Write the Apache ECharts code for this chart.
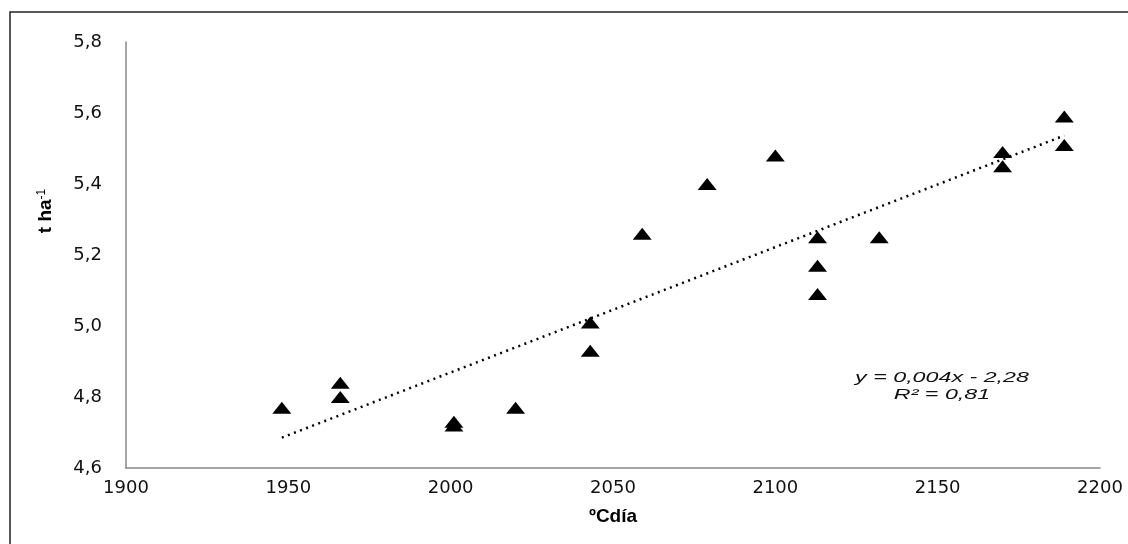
<!DOCTYPE html>
<html>
<head>
<meta charset="utf-8">
<script src="https://cdn.jsdelivr.net/npm/echarts@6/dist/echarts.min.js"></script>
<style>
  html, body { margin: 0; padding: 0; background: #fff; }
  #main { width: 1128px; height: 544px; }
</style>
</head>
<body>
<div id="main"></div>
<script>
// datos
var gradosDia = [1948, 1966, 1966, 2001, 2001, 2020, 2043, 2043, 2059, 2079, 2100, 2113, 2113, 2113, 2132, 2170, 2170, 2189, 2189];
var rendimiento = [4.77, 4.84, 4.80, 4.73, 4.72, 4.77, 5.01, 4.93, 5.26, 5.40, 5.48, 5.25, 5.17, 5.09, 5.25, 5.49, 5.45, 5.59, 5.51];
var ecuacion = ['y = 0,004x - 2,28', 'R² = 0,81'];

// recta de tendencia (minimos cuadrados)
function tendencia(xs, ys) {
  var n = xs.length, mx = 0, my = 0;
  for (var i = 0; i < n; i++) { mx += xs[i]; my += ys[i]; }
  mx /= n; my /= n;
  var sxy = 0, sxx = 0;
  for (var j = 0; j < n; j++) {
    sxy += (xs[j] - mx) * (ys[j] - my);
    sxx += (xs[j] - mx) * (xs[j] - mx);
  }
  var b = sxy / sxx, a = my - b * mx;
  var x0 = Math.min.apply(null, xs), x1 = Math.max.apply(null, xs);
  return [[x0, a + b * x0], [x1, a + b * x1]];
}

var puntos = gradosDia.map(function (x, i) { return [x, rendimiento[i]]; });
var chart = echarts.init(document.getElementById('main'));
var fuente = "'DejaVu Sans', 'Liberation Sans', Arial, sans-serif";
var fuenteTitulo = "'Liberation Sans', Arial, sans-serif";

var option = {
  backgroundColor: '#fff',
  animation: false,
  grid: { left: 126, right: 28, top: 42, bottom: 76 },
  xAxis: {
    type: 'value',
    min: 1900,
    max: 2200,
    interval: 50,
    axisLine: { lineStyle: { color: '#888', width: 1.5 } },
    axisTick: { show: false },
    splitLine: { show: false },
    axisLabel: {
      color: '#111', fontSize: 18, fontFamily: fuente, margin: 11,
      formatter: function (v) { return String(v); }
    },
    name: 'ºCdía',
    nameLocation: 'middle',
    nameGap: 39,
    nameTextStyle: { color: '#000', fontSize: 19, fontWeight: 'bold', fontFamily: fuenteTitulo }
  },
  yAxis: {
    type: 'value',
    min: 4.6,
    max: 5.8,
    interval: 0.2,
    axisLine: { show: true, lineStyle: { color: '#888', width: 1.5 } },
    axisTick: { show: false },
    splitLine: { show: false },
    axisLabel: {
      color: '#111', fontSize: 18, fontFamily: fuente, margin: 24,
      formatter: function (v) { return v.toFixed(1).replace('.', ','); }
    }
  },
  graphic: [
    {
      type: 'rect',
      shape: { x: 10, y: 12, width: 1200, height: 600 },
      style: { fill: 'none', stroke: '#222', lineWidth: 1.5 },
      silent: true
    },
    {
      type: 'text',
      x: 46, y: 211,
      rotation: Math.PI / 2,
      style: {
        text: '{b|t ha}{s|-1}',
        align: 'center',
        verticalAlign: 'middle',
        rich: {
          b: { fontSize: 19, fontWeight: 'bold', fontFamily: fuenteTitulo, fill: '#000' },
          s: { fontSize: 12, fontFamily: fuenteTitulo, fill: '#000', verticalAlign: 'top', padding: [0, 0, 8, 0] }
        }
      }
    },
    {
      type: 'text',
      x: 942, y: 386,
      scaleX: 1.55,
      style: {
        text: ecuacion.join('\n'),
        align: 'center',
        verticalAlign: 'middle',
        fontSize: 15,
        lineHeight: 17,
        fontStyle: 'italic',
        fontFamily: fuenteTitulo,
        fill: '#111'
      }
    }
  ],
  series: [
    {
      type: 'line',
      data: tendencia(gradosDia, rendimiento),
      showSymbol: false,
      symbol: 'none',
      lineStyle: { color: '#000', width: 2.5, type: [2, 4.5], opacity: 1 },
      z: 1
    },
    {
      type: 'scatter',
      data: puntos,
      symbol: 'triangle',
      symbolSize: [19, 12],
      itemStyle: { color: '#000', opacity: 1 },
      z: 2
    }
  ]
};
chart.setOption(option);
</script>
</body>
</html>
